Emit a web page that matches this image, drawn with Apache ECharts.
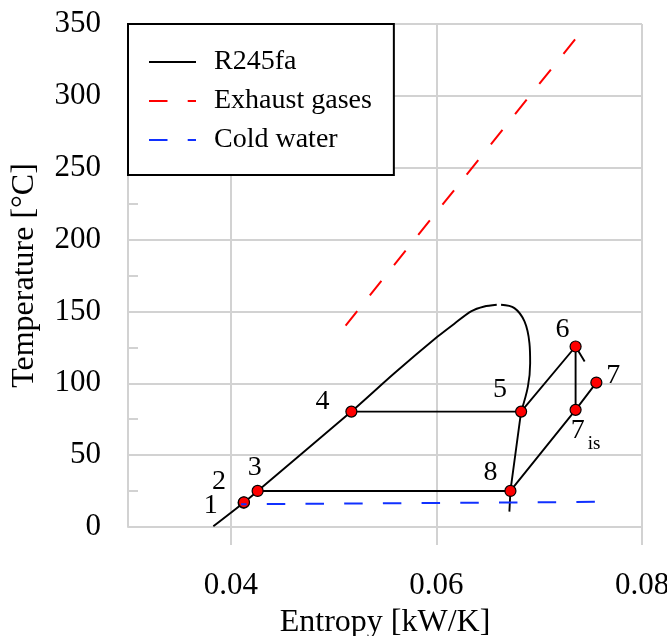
<!DOCTYPE html>
<html>
<head>
<meta charset="utf-8">
<script src="https://cdn.jsdelivr.net/npm/echarts@6/dist/echarts.min.js"></script>
<style>html,body{margin:0;padding:0;background:#fff;}#c{width:667px;height:636px;}</style>
</head>
<body>
<div id="c"></div>
<script>
// ---- data (entropy kW/K, temperature °C) ----
const xTicks = [0.04, 0.06, 0.08];
const stateNames = ['1', '2', '3', '4', '5', '6', '7', '7is', '8'];
const stateS = [0.04125, 0.04128, 0.04261, 0.05173, 0.06824, 0.07354, 0.07556, 0.07354, 0.06720];
const stateT = [16.9, 17.2, 25.1, 80.3, 80.3, 125.6, 100.5, 81.5, 25.1];

// saturation dome, liquid branch (through states 1, 3, 4)
const domeLiqS = [0.0383, 0.04125, 0.04261, 0.05173, 0.05588, 0.06012, 0.06175, 0.06337, 0.06466, 0.06587];
const domeLiqT = [0.5, 16.9, 25.1, 80.3, 106.8, 132.5, 141.5, 150.0, 153.4, 154.6];
// saturation dome, vapour branch down to state 5
const domeVapS = [0.06629, 0.06759, 0.06857, 0.06905, 0.06912, 0.06890, 0.06824];
const domeVapT = [154.6, 152.3, 143.0, 128.0, 114.0, 97.7, 80.3];
// vapour branch from state 5 through state 8
const vapLowS = [0.06824, 0.06720, 0.06710];
const vapLowT = [80.3, 25.1, 10.7];
// cycle segments
const evapS = [0.05173, 0.06824];           const evapT = [80.3, 80.3];
const superS = [0.06824, 0.07354, 0.07442]; const superT = [80.3, 125.6, 115.1];
const isenS = [0.07354, 0.07354];           const isenT = [125.6, 81.5];
const expS = [0.06720, 0.07354, 0.07556];   const expT = [25.1, 81.5, 100.5];
const condS = [0.04261, 0.06720];           const condT = [25.1, 25.1];
// exhaust gases and cold water
const gasS = [0.05117, 0.07361];  const gasT = [140.2, 340.4];
const waterS = [0.04100, 0.07560]; const waterT = [15.8, 17.5];

// ---- build ----
const zip = (a, b) => a.map((v, i) => [v, b[i]]);
const FONT = 'Liberation Serif';
const GRID = '#d2d2d2';
const labelOffsets = {
  '1': [-33, 3], '2': [-25, -21], '3': [-3, -23], '4': [-29, -10], '5': [-21, -22],
  '6': [-13, -17], '7': [17, -7], '7is': [10, 21], '8': [-20, -18]
};
const blackLine = (data, smooth) => ({
  type: 'line', name: 'R245fa', data: data, symbol: 'none', smooth: smooth || false,
  lineStyle: { color: '#000', width: 1.9 }, itemStyle: { color: '#000' }, z: 3,
  emphasis: { disabled: true }
});

const option = {
  animation: false,
  backgroundColor: '#fff',
  textStyle: { fontFamily: FONT },
  grid: { left: 128, right: 25, top: 24, bottom: 109, outerBoundsMode: 'none', containLabel: false },
  legend: {
    data: ['R245fa', 'Exhaust gases', 'Cold water'],
    orient: 'vertical', left: 128, top: 24,
    backgroundColor: '#fff', borderColor: '#000', borderWidth: 2,
    padding: [24, 22, 21, 20],
    itemWidth: 47, itemHeight: 14, itemGap: 11,
    selectedMode: false,
    itemStyle: { opacity: 0 },
    lineStyle: { dashOffset: 0 },
    textStyle: { fontFamily: FONT, fontSize: 28, lineHeight: 28, color: '#000', padding: [0, 0, 0, 13] },
    z: 10
  },
  xAxis: {
    type: 'value', min: 0.03, max: 0.08,
    axisLine: { show: false },
    axisTick: { show: true, customValues: xTicks, length: 18, lineStyle: { color: GRID, width: 2 } },
    axisLabel: { customValues: xTicks, fontFamily: FONT, fontSize: 31, color: '#000', margin: 43,
      formatter: v => v.toFixed(2) },
    splitLine: { show: true, lineStyle: { color: GRID, width: 2 } },
    name: 'Entropy [kW/K]', nameLocation: 'middle', nameGap: 80,
    nameTextStyle: { fontFamily: FONT, fontSize: 32, color: '#000' }
  },
  yAxis: {
    type: 'value', min: 0, max: 350, interval: 50,
    axisLine: { show: true, lineStyle: { color: GRID, width: 2 } },
    axisTick: { show: true, inside: true, length: 10, lineStyle: { color: GRID, width: 2 } },
    minorTick: { show: true, splitNumber: 2, length: 10, lineStyle: { color: GRID, width: 2 } },
    axisLabel: { fontFamily: FONT, fontSize: 31, color: '#000', margin: 27 },
    splitLine: { show: true, lineStyle: { color: GRID, width: 2 } },
    name: 'Temperature [°C]', nameLocation: 'middle', nameGap: 87,
    nameTextStyle: { fontFamily: FONT, fontSize: 32, color: '#000' }
  },
  series: [
    blackLine(zip(domeLiqS, domeLiqT), 0.25),
    blackLine(zip(domeVapS, domeVapT), 0.35),
    blackLine(zip(vapLowS, vapLowT)),
    blackLine(zip(evapS, evapT)),
    blackLine(zip(superS, superT)),
    blackLine(zip(isenS, isenT)),
    blackLine(zip(expS, expT)),
    blackLine(zip(condS, condT)),
    {
      type: 'line', name: 'Exhaust gases', data: zip(gasS, gasT), symbol: 'none',
      lineStyle: { color: '#ff0000', width: 2, type: [18.5, 20.2] }, itemStyle: { color: '#ff0000' }, z: 3
    },
    {
      type: 'scatter', name: 'states',
      data: stateNames.map((n, i) => ({
        value: [stateS[i], stateT[i]], name: n,
        label: { offset: labelOffsets[n] }
      })),
      symbol: 'circle', symbolSize: 11,
      itemStyle: { color: '#ff0000', borderColor: '#000', borderWidth: 1.2, opacity: 1 },
      label: {
        show: true, position: 'inside', align: 'center', verticalAlign: 'middle',
        fontFamily: FONT, fontSize: 28, color: '#000', textBorderWidth: 0,
        formatter: p => p.name === '7is' ? '{b|7}{s|is}' : p.name,
        rich: {
          b: { fontFamily: FONT, fontSize: 28, lineHeight: 46, color: '#000', textBorderWidth: 0 },
          s: { fontFamily: FONT, fontSize: 19, lineHeight: 18, verticalAlign: 'bottom', color: '#000', textBorderWidth: 0, padding: [0, 0, 0, 3] }
        }
      },
      emphasis: { disabled: true },
      z: 4
    },
    {
      type: 'line', name: 'Cold water', data: zip(waterS, waterT), symbol: 'none',
      lineStyle: { color: '#1030ff', width: 2, type: [18.5, 20.2], dashOffset: 13 }, itemStyle: { color: '#1030ff' }, z: 5
    }
  ]
};
const chart = echarts.init(document.getElementById('c'), null, { renderer: 'canvas' });
chart.setOption(option);
</script>
</body>
</html>
